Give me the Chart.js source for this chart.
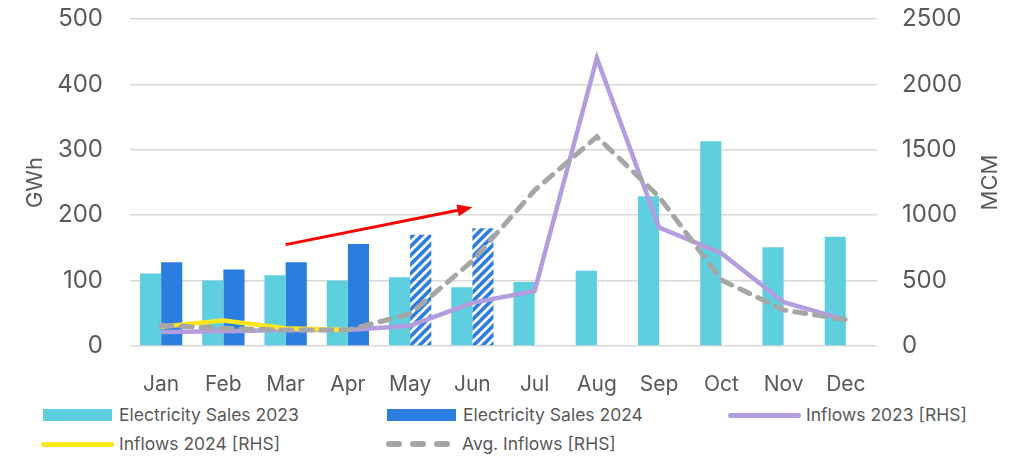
<!DOCTYPE html>
<html>
<head>
<meta charset="utf-8">
<script src="https://cdn.jsdelivr.net/npm/chart.js@4.4.1/dist/chart.umd.min.js"></script>
<style>
  body { margin: 0; background: #fff; font-family: Inter, sans-serif; }
  #wrap { position: relative; width: 1028px; height: 456px; }
  #box { position: absolute; left: 0; top: 0; width: 1028px; height: 400px; }
  .item { position: absolute; height: 22px; }
  .sw { position: absolute; }
  .txt { position: absolute; top: 0; line-height: 22px; font-size: 17.5px; color: #595959; white-space: nowrap; }
</style>
</head>
<body>
<div id="wrap">
  <div id="box"><canvas id="hydroChart"></canvas></div>
  <div id="legend"></div>
</div>
<script>
// dados
const categories = ['Jan', 'Feb', 'Mar', 'Apr', 'May', 'Jun', 'Jul', 'Aug', 'Sep', 'Oct', 'Nov', 'Dec'];
const sales2023 = [111, 100, 108, 100, 105, 90, 98, 115, 229, 313, 151, 167];
const sales2024 = [128, 117, 128, 156, 170, 180, null, null, null, null, null, null];
const estimatedMonths = ['May', 'Jun']; // barras tracejadas (estimativa)
const inflows2023 = [107, 112, 122, 122, 155, 330, 420, 2200, 905, 710, 335, 200];
const inflows2024 = [148, 195, 135, 122, null, null, null, null, null, null, null, null];
const avgInflows = [158, 135, 122, 122, 245, 650, 1190, 1600, 1140, 505, 275, 200];
const leftTicks = [0, 100, 200, 300, 400, 500];
const rightTicks = [0, 500, 1000, 1500, 2000, 2500];
const arrowFrom = ['Mar', 155];
const arrowTo = ['Jun', 212];

const CYAN = '#5ecfdf';
const BLUE = '#2b7de0';
const PURPLE = '#b39ddf';
const YELLOW = '#ffe81a';
const GREY = '#a6a6a6';
const TEXT = '#595959';

// padrão de listras para os meses estimados
function makeHatch(color) {
    const c = document.createElement('canvas');
    c.width = 9; c.height = 9;
    const g = c.getContext('2d');
    g.strokeStyle = color;
    g.lineWidth = 3.6;
    g.beginPath();
    g.moveTo(-2, 11); g.lineTo(11, -2);
    g.moveTo(-6.5, 6.5); g.lineTo(6.5, -6.5);
    g.moveTo(2.5, 15.5); g.lineTo(15.5, 2.5);
    g.stroke();
    return g.createPattern(c, 'repeat');
}
const hatch = makeHatch(BLUE);

// seta vermelha e títulos dos eixos
const overlay = {
    id: 'overlay',
    afterDatasetsDraw(chart) {
        const { ctx, scales: { x, y } } = chart;
        const x0 = x.getPixelForValue(categories.indexOf(arrowFrom[0]));
        const y0 = y.getPixelForValue(arrowFrom[1]);
        const x1 = x.getPixelForValue(categories.indexOf(arrowTo[0]));
        const y1 = y.getPixelForValue(arrowTo[1]);
        const ang = Math.atan2(y1 - y0, x1 - x0);
        const head = 15;
        ctx.save();
        ctx.strokeStyle = '#ff0000';
        ctx.fillStyle = '#ff0000';
        ctx.lineWidth = 3;
        ctx.beginPath();
        ctx.moveTo(x0, y0);
        ctx.lineTo(x1 - Math.cos(ang) * head * 0.8, y1 - Math.sin(ang) * head * 0.8);
        ctx.stroke();
        ctx.beginPath();
        ctx.moveTo(x1, y1);
        ctx.lineTo(x1 - head * Math.cos(ang) + 6 * Math.sin(ang), y1 - head * Math.sin(ang) - 6 * Math.cos(ang));
        ctx.lineTo(x1 - head * Math.cos(ang) - 6 * Math.sin(ang), y1 - head * Math.sin(ang) + 6 * Math.cos(ang));
        ctx.closePath();
        ctx.fill();
        ctx.restore();
    },
    afterDraw(chart) {
        const { ctx, chartArea } = chart;
        const midY = (chartArea.top + chartArea.bottom) / 2;
        ctx.save();
        ctx.fillStyle = TEXT;
        ctx.font = '22px Inter';
        ctx.textAlign = 'center';
        ctx.textBaseline = 'middle';
        [[35, 'GWh'], [990, 'MCM']].forEach(([px, label]) => {
            ctx.save();
            ctx.translate(px, midY);
            ctx.rotate(-Math.PI / 2);
            ctx.fillText(label, 0, 0);
            ctx.restore();
        });
        ctx.restore();
    }
};

function fixY(width) {
    return (s) => { s.width = width; s.paddingTop = 0; s.paddingBottom = 0; };
}

const ctx = document.getElementById('hydroChart').getContext('2d');
const hydroChart = new Chart(ctx, {
    type: 'bar',
    data: {
        labels: categories,
        datasets: [
            {
                label: 'Electricity Sales 2023',
                data: sales2023,
                backgroundColor: CYAN,
                yAxisID: 'y',
                order: 4
            },
            {
                label: 'Electricity Sales 2024',
                data: sales2024,
                backgroundColor: (c) => estimatedMonths.includes(categories[c.dataIndex]) ? hatch : BLUE,
                yAxisID: 'y',
                order: 4
            },
            {
                label: 'Inflows 2023 [RHS]',
                type: 'line',
                data: inflows2023,
                borderColor: PURPLE,
                borderWidth: 4.5,
                pointRadius: 0,
                tension: 0,
                yAxisID: 'y1',
                order: 3
            },
            {
                label: 'Inflows 2024 [RHS]',
                type: 'line',
                data: inflows2024,
                borderColor: YELLOW,
                borderWidth: 4.5,
                pointRadius: 0,
                tension: 0,
                yAxisID: 'y1',
                order: 2
            },
            {
                label: 'Avg. Inflows [RHS]',
                type: 'line',
                data: avgInflows,
                borderColor: GREY,
                borderWidth: 5,
                borderDash: [11, 9],
                borderCapStyle: 'round',
                pointRadius: 0,
                tension: 0,
                yAxisID: 'y1',
                order: 1
            }
        ]
    },
    options: {
        responsive: true,
        maintainAspectRatio: false,
        animation: false,
        layout: { padding: { top: 19, left: 0, right: 0, bottom: 0 } },
        datasets: {
            bar: { barPercentage: 1, categoryPercentage: 0.68 }
        },
        plugins: {
            legend: { display: false },
            tooltip: { enabled: false }
        },
        scales: {
            x: {
                grid: { display: false },
                border: { display: false },
                ticks: { color: TEXT, font: { family: 'Inter', size: 21 }, padding: 18, maxRotation: 0 },
                afterFit: (s) => { s.height = 54; s.paddingLeft = 0; s.paddingRight = 0; }
            },
            y: {
                position: 'left',
                min: 0,
                max: 500,
                afterBuildTicks: (s) => { s.ticks = leftTicks.map(v => ({ value: v })); },
                grid: { color: '#d9d9d9', lineWidth: 1.5, drawTicks: false },
                border: { display: false },
                ticks: { color: TEXT, font: { family: 'Inter', size: 24 }, padding: 27, callback: (v) => String(v) },
                afterFit: fixY(130)
            },
            y1: {
                position: 'right',
                min: 0,
                max: 2500,
                afterBuildTicks: (s) => { s.ticks = rightTicks.map(v => ({ value: v })); },
                grid: { drawOnChartArea: false, drawTicks: false },
                border: { display: false },
                ticks: { color: TEXT, font: { family: 'Inter', size: 24 }, padding: 25, callback: (v) => String(v) },
                afterFit: fixY(151)
            }
        }
    },
    plugins: [overlay]
});

// legenda em HTML, três colunas
function buildLegend() {
    const items = [
        { label: 'Electricity Sales 2023', kind: 'box', color: CYAN, left: 43, top: 404 },
        { label: 'Electricity Sales 2024', kind: 'box', color: BLUE, left: 387, top: 404 },
        { label: 'Inflows 2023 [RHS]', kind: 'line', color: PURPLE, left: 728, top: 404 },
        { label: 'Inflows 2024 [RHS]', kind: 'line', color: YELLOW, left: 41, top: 433 },
        { label: 'Avg. Inflows [RHS]', kind: 'dash', color: GREY, left: 386, top: 433 }
    ];
    const legend = document.getElementById('legend');
    items.forEach(it => {
        const el = document.createElement('div');
        el.className = 'item';
        el.style.left = it.left + 'px';
        el.style.top = it.top + 'px';
        let sw = '';
        if (it.kind === 'box') {
            sw = `<div class="sw" style="left:0;top:5px;width:69px;height:12px;background:${it.color}"></div>`;
        } else if (it.kind === 'line') {
            sw = `<div class="sw" style="left:0;top:8.5px;width:73px;height:5px;border-radius:3px;background:${it.color}"></div>`;
        } else {
            sw = [0, 24, 48].map(o => `<div class="sw" style="left:${o}px;top:8px;width:16px;height:6px;border-radius:3px;background:${it.color}"></div>`).join('');
        }
        const tx = it.kind === 'line' ? 78 : 76;
        el.innerHTML = sw + `<div class="txt" style="left:${tx}px">${it.label}</div>`;
        legend.appendChild(el);
    });
}

document.addEventListener('DOMContentLoaded', buildLegend);
</script>
</body>
</html>
